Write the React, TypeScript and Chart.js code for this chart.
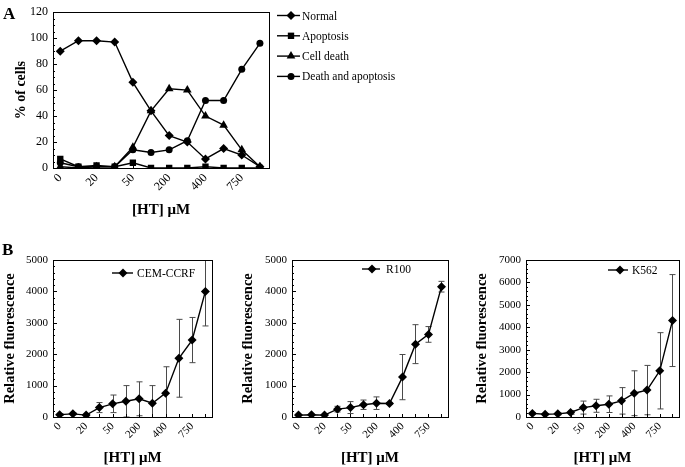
import React, { useEffect, useRef } from 'react';
import { Chart, registerables } from 'chart.js';

Chart.register(...registerables);

const FONT = '"Liberation Serif", "Times New Roman", Times, serif';

// x categories ([HT] µM); only every other one is labelled
const xLabels = ['0', '', '20', '', '50', '', '200', '', '400', '', '750', ''];

// Panel A: % of cells
const normal = [90, 98, 98, 97, 66, 44, 25, 20, 7, 15, 10, 1];
const apoptosis = [7, 1, 2, 1, 4, 0, 0, 0, 1, 0, 0, 0];
const cellDeath = [1, 0, 1, 1, 16, 44, 61, 60, 40, 33, 14, 1];
const deathApoptosis = [4, 1, 1, 1, 14, 12, 14, 21, 52, 52, 76, 96];

// Panel B: relative fluorescence (mean, error)
const cemValues = [75, 100, 60, 300, 420, 500, 580, 440, 760, 1870, 2450, 4000];
const cemErrors = [25, 30, 25, 160, 280, 500, 540, 560, 840, 1240, 720, 1100];
const r100Values = [60, 70, 60, 250, 300, 390, 440, 430, 1270, 2320, 2630, 4150];
const r100Errors = [15, 15, 15, 90, 190, 150, 200, 30, 720, 620, 250, 170];
const k562Values = [160, 120, 140, 200, 420, 500, 570, 720, 1060, 1200, 2060, 4300];
const k562Errors = [40, 30, 40, 80, 290, 290, 370, 590, 1000, 1100, 1700, 2050];

function drawMarker(ctx: CanvasRenderingContext2D, style: string, x: number, y: number, r: number) {
  ctx.beginPath();
  if (style === 'rectRot') {
    ctx.moveTo(x, y - r); ctx.lineTo(x + r, y); ctx.lineTo(x, y + r); ctx.lineTo(x - r, y);
    ctx.closePath();
  } else if (style === 'rect') {
    const s = r * Math.SQRT1_2;
    ctx.rect(x - s, y - s, 2 * s, 2 * s);
  } else if (style === 'triangle') {
    let rad = 0;
    ctx.moveTo(x + Math.sin(rad) * r, y - Math.cos(rad) * r);
    rad += (2 * Math.PI) / 3;
    ctx.lineTo(x + Math.sin(rad) * r, y - Math.cos(rad) * r);
    rad += (2 * Math.PI) / 3;
    ctx.lineTo(x + Math.sin(rad) * r, y - Math.cos(rad) * r);
    ctx.closePath();
  } else {
    ctx.arc(x, y, r, 0, Math.PI * 2);
  }
  ctx.fill();
}

const framePlugin = {
  id: 'frame',
  afterDraw(chart: any, _args: any, opts: any) {
    const { ctx, chartArea: a, scales } = chart;
    const x = scales.x, y = scales.y;
    ctx.save();
    ctx.strokeStyle = '#000';
    ctx.lineWidth = 1;
    ctx.strokeRect(Math.round(a.left) + 0.5, Math.round(a.top) + 0.5, Math.round(a.right - a.left), Math.round(a.bottom - a.top));
    ctx.beginPath();
    const nMinor = Math.round((y.max - y.min) / opts.yMinor);
    for (let k = 0; k <= nMinor; k++) {
      const v = y.min + k * opts.yMinor;
      const py = Math.round(y.getPixelForValue(v)) + 0.5;
      const isMajor = Math.abs(v / opts.yMajor - Math.round(v / opts.yMajor)) < 1e-6;
      ctx.moveTo(a.left, py);
      ctx.lineTo(a.left + (isMajor ? 4 : 2), py);
    }
    for (let i = 0; i < xLabels.length; i++) {
      const px = Math.round(x.getPixelForValue(i)) + 0.5;
      ctx.moveTo(px, a.bottom);
      ctx.lineTo(px, a.bottom - 3);
    }
    ctx.stroke();
    ctx.restore();
  },
};

const errorBarPlugin = {
  id: 'errorBars',
  beforeDatasetsDraw(chart: any) {
    const { ctx, chartArea: a, scales } = chart;
    const x = scales.x, y = scales.y;
    ctx.save();
    ctx.beginPath();
    ctx.rect(a.left, a.top, a.right - a.left, a.bottom - a.top);
    ctx.clip();
    ctx.strokeStyle = '#4a4a4a';
    ctx.lineWidth = 1;
    chart.data.datasets.forEach((ds: any) => {
      const errs: number[] | undefined = ds.errors;
      if (!errs) return;
      ds.data.forEach((pt: any, i: number) => {
        const e = errs[i];
        if (!e) return;
        const px = Math.round(x.getPixelForValue(pt.x)) + 0.5;
        const t = y.getPixelForValue(pt.y + e);
        const b = y.getPixelForValue(pt.y - e);
        ctx.beginPath();
        ctx.moveTo(px, t); ctx.lineTo(px, b);
        ctx.moveTo(px - 3, t); ctx.lineTo(px + 3, t);
        ctx.moveTo(px - 3, b); ctx.lineTo(px + 3, b);
        ctx.stroke();
      });
    });
    ctx.restore();
  },
};

const lineLegendPlugin = {
  id: 'lineLegend',
  afterDraw(chart: any, _args: any, opts: any) {
    if (!opts || !opts.show) return;
    const { ctx } = chart;
    ctx.save();
    ctx.font = `${opts.fontSize}px ${FONT}`;
    ctx.textBaseline = 'middle';
    ctx.textAlign = 'left';
    chart.data.datasets.forEach((ds: any, i: number) => {
      const yy = opts.y + i * opts.spacing;
      ctx.strokeStyle = '#000';
      ctx.fillStyle = '#000';
      ctx.lineWidth = 1.4;
      ctx.beginPath();
      ctx.moveTo(opts.x0, yy);
      ctx.lineTo(opts.x1, yy);
      ctx.stroke();
      drawMarker(ctx, ds.pointStyle, opts.mx, yy, ds.pointRadius);
      ctx.fillText(ds.label, opts.tx, yy + 1);
    });
    ctx.restore();
  },
};

type Series = { label: string; values: number[]; errors?: number[]; style: string; radius: number };

function makeConfig(p: {
  series: Series[];
  xMin: number; xMax: number; yMax: number; yStep: number; yMinor: number;
  padding: { left: number; top: number; right: number; bottom: number };
  yWidth: number; xHeight: number; yTitle: string; yTitleSize: number; yTitlePad: number;
  xTitlePad: number; tickSize: number; legend: any;
}): any {
  return {
    type: 'line',
    data: {
      datasets: p.series.map((s) => ({
        label: s.label,
        data: s.values.map((v, i) => ({ x: i, y: v })),
        errors: s.errors,
        borderColor: '#000',
        backgroundColor: '#000',
        borderWidth: 1.4,
        pointStyle: s.style,
        pointRadius: s.radius,
        pointBorderWidth: 0,
        pointBackgroundColor: '#000',
        tension: 0,
        fill: false,
      })),
    },
    options: {
      responsive: false,
      animation: false,
      events: [],
      layout: { padding: p.padding },
      plugins: {
        legend: { display: false },
        tooltip: { enabled: false },
        frame: { yMajor: p.yStep, yMinor: p.yMinor },
        lineLegend: p.legend,
      },
      scales: {
        x: {
          type: 'linear',
          min: p.xMin,
          max: p.xMax,
          afterBuildTicks: (s: any) => {
            s.ticks = xLabels.map((_, i) => ({ value: i }));
          },
          afterFit: (s: any) => { s.height = p.xHeight; },
          ticks: {
            autoSkip: false,
            maxRotation: 45,
            minRotation: 45,
            padding: 3,
            color: '#000',
            font: { family: FONT, size: p.tickSize },
            callback: (v: number) => xLabels[Math.round(v)] ?? '',
          },
          grid: { display: false, drawTicks: false },
          border: { display: false },
          title: {
            display: true,
            text: '[HT] μM',
            color: '#000',
            font: { family: FONT, size: 15, weight: 'bold' },
            padding: { top: p.xTitlePad, bottom: p.xTitlePad },
          },
        },
        y: {
          min: 0,
          max: p.yMax,
          afterFit: (s: any) => { s.width = p.yWidth; },
          ticks: {
            stepSize: p.yStep,
            padding: 5,
            color: '#000',
            font: { family: FONT, size: p.tickSize },
            callback: (v: number) => String(v),
          },
          grid: { display: false, drawTicks: false },
          border: { display: false },
          title: {
            display: true,
            text: p.yTitle,
            color: '#000',
            font: { family: FONT, size: p.yTitleSize, weight: 'bold' },
            padding: { top: p.yTitlePad, bottom: p.yTitlePad },
          },
        },
      },
    },
    plugins: [errorBarPlugin, framePlugin, lineLegendPlugin],
  };
}

function ChartBox(props: { left: number; top: number; width: number; height: number; config: () => any }) {
  const ref = useRef<HTMLCanvasElement>(null);
  useEffect(() => {
    const chart = new Chart(ref.current as HTMLCanvasElement, props.config());
    return () => chart.destroy();
  }, []);
  return (
    <canvas
      ref={ref}
      width={props.width}
      height={props.height}
      style={{ position: 'absolute', left: props.left, top: props.top, width: props.width, height: props.height }}
    />
  );
}

const configA = () =>
  makeConfig({
    series: [
      { label: 'Normal', values: normal, style: 'rectRot', radius: 4.5 },
      { label: 'Apoptosis', values: apoptosis, style: 'rect', radius: 4.5 },
      { label: 'Cell death', values: cellDeath, style: 'triangle', radius: 5 },
      { label: 'Death and apoptosis', values: deathApoptosis, style: 'circle', radius: 3.5 },
    ],
    xMin: -0.4, xMax: 11.5, yMax: 120, yStep: 20, yMinor: 5,
    padding: { left: 0, top: 6, right: 151, bottom: 0 },
    yWidth: 53, xHeight: 62, yTitle: '% of cells', yTitleSize: 14, yTitlePad: 12.6,
    xTitlePad: 11, tickSize: 12,
    legend: { show: true, x0: 277, x1: 300, mx: 291, tx: 302, y: 15.5, spacing: 20.3, fontSize: 11.5 },
  });

const makeB = (label: string, values: number[], errors: number[], canvasLeft: number, yWidth: number, padRight: number, yMax: number, yTitlePad: number, leg: { x0: number; x1: number; mx: number; tx: number; y: number }) => () =>
  makeConfig({
    series: [{ label, values, errors, style: 'rectRot', radius: 4.5 }],
    xMin: -0.5, xMax: 11.5, yMax, yStep: 1000, yMinor: 200,
    padding: { left: 0, top: 25, right: padRight, bottom: 0 },
    yWidth, xHeight: 50, yTitle: 'Relative fluorescence', yTitleSize: 14.5, yTitlePad,
    xTitlePad: 0, tickSize: 11,
    legend: {
      show: true,
      x0: leg.x0 - canvasLeft, x1: leg.x1 - canvasLeft, mx: leg.mx - canvasLeft, tx: leg.tx - canvasLeft,
      y: leg.y - 235, spacing: 20, fontSize: 11.5,
    },
  });

const configB1 = makeB('CEM-CCRF', cemValues, cemErrors, 0, 53, 20, 5000, 1.3, { x0: 112, x1: 133, mx: 123, tx: 137, y: 273 });
const configB2 = makeB('R100', r100Values, r100Errors, 232, 60, 4, 5000, 7.3, { x0: 362, x1: 380, mx: 372, tx: 386, y: 269 });
const configB3 = makeB('K562', k562Values, k562Errors, 454, 72, 2, 7000, 19.3, { x0: 608, x1: 628, mx: 620, tx: 632, y: 270 });

export default function App() {
  const panelLabel: React.CSSProperties = {
    position: 'absolute',
    fontFamily: FONT,
    fontWeight: 'bold',
    fontSize: 17,
    lineHeight: '18px',
    color: '#000',
  };
  return (
    <div style={{ position: 'fixed', left: 0, top: 0, width: 685, height: 467, background: '#fff', overflow: 'hidden' }}>
      <ChartBox left={0} top={0} width={420} height={230} config={configA} />
      <ChartBox left={0} top={235} width={232} height={232} config={configB1} />
      <ChartBox left={232} top={235} width={222} height={232} config={configB2} />
      <ChartBox left={454} top={235} width={231} height={232} config={configB3} />
      <div style={{ ...panelLabel, left: 3, top: 5 }}>A</div>
      <div style={{ ...panelLabel, left: 2, top: 241 }}>B</div>
    </div>
  );
}
